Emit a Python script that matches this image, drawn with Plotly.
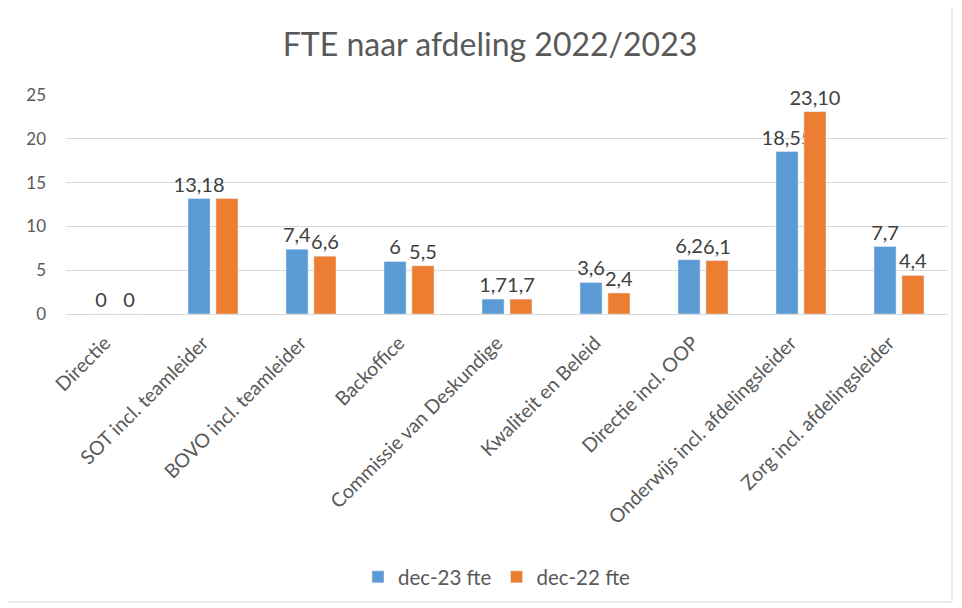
import plotly.graph_objects as go

categories = ["Directie", "SOT incl. teamleider", "BOVO incl. teamleider", "Backoffice",
              "Commissie van Deskundige", "Kwaliteit en Beleid", "Directie incl. OOP",
              "Onderwijs incl. afdelingsleider", "Zorg incl. afdelingsleider"]
dec23 = [0, 13.18, 7.4, 6, 1.7, 3.6, 6.2, 18.55, 7.7]
dec22 = [0, 13.18, 6.6, 5.5, 1.7, 2.4, 6.1, 23.10, 4.4]
dec23_labels = ["0", "13,18", "7,4", "6", "1,7", "3,6", "6,2", "18,55", "7,7"]
dec22_labels = ["0", "", "6,6", "5,5", "1,7", "2,4", "6,1", "23,10", "4,4"]
y_ticks = [0, 5, 10, 15, 20, 25]

FONT = "Lato, 'Open Sans', sans-serif"
GRAY = "#595959"
OFF = 8  # page body margin

fig = go.Figure()
fig.add_trace(go.Bar(name="dec-23 fte", x=categories, y=dec23, text=dec23_labels,
                     textposition="outside", cliponaxis=False, constraintext="none",
                     marker_color="#5B9BD5",
                     textfont=dict(size=20, color="#404040", family=FONT)))
fig.add_trace(go.Bar(name="dec-22 fte", x=categories, y=dec22, text=dec22_labels,
                     textposition="outside", cliponaxis=False, constraintext="none",
                     marker_color="#ED7D31",
                     textfont=dict(size=20, color="#404040", family=FONT)))

W, H = 962 - 2 * OFF + 8, 608 - 2 * OFF + 8
L, T = 66 - OFF, 95 - OFF
R = W - (948 - OFF)
B = H - (314 - OFF)
pw, ph = W - L - R, H - T - B

def py(yabs):
    return (ph - (yabs - OFF - T)) / ph

def px(xabs):
    return (xabs - OFF - L) / pw

fig.update_layout(
    width=W, height=H,
    margin=dict(l=L, r=R, t=T, b=B, autoexpand=False),
    paper_bgcolor="white", plot_bgcolor="white",
    title=dict(text="FTE naar afdeling 2022/2023", x=px(490), xanchor="center",
               xref="paper",
               y=1 - (45 - OFF) / H, yanchor="middle",
               font=dict(size=32, color=GRAY, family=FONT)),
    barmode="group", bargap=0.43, bargroupgap=0.21,
    font=dict(family=FONT, color=GRAY),
    legend=dict(orientation="h", x=px(497), xanchor="center",
                y=py(577), yanchor="middle",
                font=dict(size=20.5, color=GRAY, family=FONT),
                traceorder="normal"),
    showlegend=True,
)
fig.update_xaxes(tickangle=-45, tickfont=dict(size=19.5, color=GRAY, family=FONT),
                 showline=True, linecolor="#D9D9D9", ticks="", showgrid=False,
                 automargin=False, ticklabelshift=-10, ticklabelstandoff=9)
fig.update_yaxes(range=[0, 25], tickvals=y_ticks, showgrid=True, gridcolor="#D9D9D9",
                 zeroline=False, showline=False, ticklabelstandoff=19,
                 tickfont=dict(size=17, color=GRAY, family=FONT), automargin=False)

# chart outer border
fig.add_shape(type="rect", xref="paper", yref="paper",
              x0=px(3), x1=px(952), y0=py(602), y1=py(5),
              line=dict(color="#D9D9D9", width=1), fillcolor="rgba(0,0,0,0)", layer="below")

fig.write_html("out.html")
